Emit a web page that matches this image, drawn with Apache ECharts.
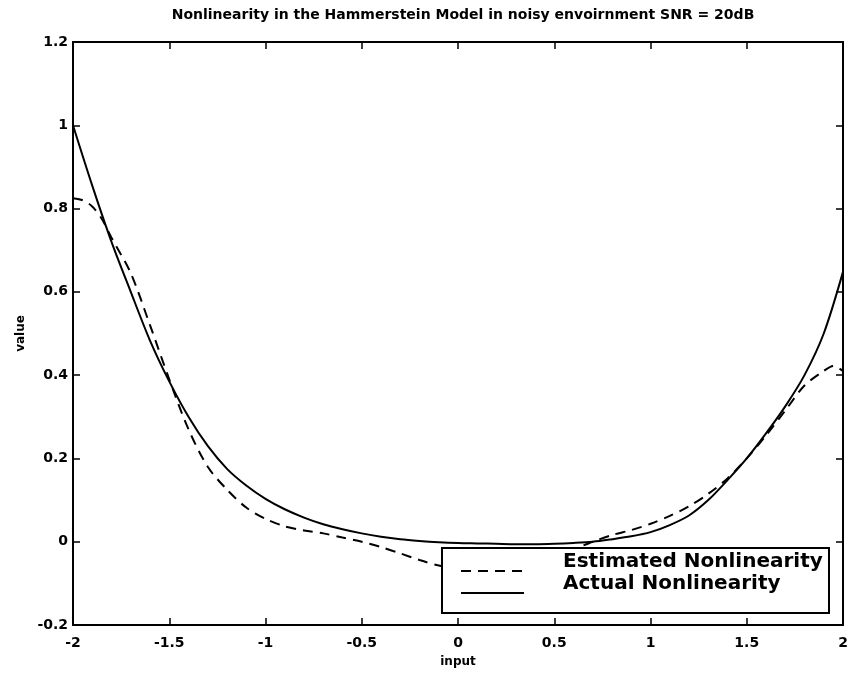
<!DOCTYPE html>
<html>
<head>
<meta charset="utf-8">
<script src="https://cdn.jsdelivr.net/npm/echarts@6/dist/echarts.min.js"></script>
<style>html,body{margin:0;padding:0;background:#fff}#c{width:862px;height:677px}</style>
</head>
<body>
<div id="c"></div>
<script>
var titleText = 'Nonlinearity in the Hammerstein Model in noisy envoirnment SNR = 20dB';
var xName = 'input';
var yName = 'value';
var seriesNames = ['Estimated Nonlinearity', 'Actual Nonlinearity'];

var actualX = [-2, -1.9, -1.8, -1.7, -1.6, -1.5, -1.4, -1.3, -1.2, -1.1, -1.0, -0.9, -0.8, -0.7, -0.6, -0.5, -0.4, -0.3, -0.2, -0.1, 0, 0.1, 0.2, 0.3, 0.4, 0.5, 0.6, 0.7, 0.8, 0.9, 1.0, 1.1, 1.2, 1.3, 1.4, 1.5, 1.6, 1.7, 1.8, 1.9, 2];
var actualY = [1.0, 0.855, 0.72, 0.6, 0.483, 0.385, 0.3, 0.23, 0.175, 0.135, 0.103, 0.078, 0.058, 0.042, 0.03, 0.02, 0.012, 0.006, 0.002, -0.001, -0.003, -0.004, -0.005, -0.006, -0.006, -0.005, -0.003, 0.0, 0.006, 0.013, 0.023, 0.04, 0.063, 0.1, 0.148, 0.2, 0.26, 0.325, 0.4, 0.5, 0.648];

var estX = [-2, -1.95, -1.9, -1.85, -1.8, -1.7, -1.6, -1.5, -1.4, -1.3, -1.2, -1.1, -1.0, -0.9, -0.8, -0.7, -0.6, -0.5, -0.4, -0.3, -0.2, -0.1, 0, 0.1, 0.2, 0.3, 0.4, 0.5, 0.6, 0.7, 0.8, 0.9, 1.0, 1.1, 1.2, 1.3, 1.4, 1.5, 1.6, 1.7, 1.8, 1.9, 1.95, 2];
var estY = [0.825, 0.82, 0.805, 0.775, 0.73, 0.645, 0.52, 0.39, 0.27, 0.18, 0.125, 0.082, 0.055, 0.037, 0.027, 0.02, 0.01, 0.0, -0.013, -0.028, -0.044, -0.057, -0.064, -0.066, -0.064, -0.058, -0.048, -0.034, -0.018, 0.0, 0.016, 0.028, 0.043, 0.062, 0.085, 0.115, 0.152, 0.2, 0.255, 0.315, 0.375, 0.41, 0.422, 0.41];

function pairs(xs, ys) { return xs.map(function (x, i) { return [x, ys[i]]; }); }

var FONT = 'DejaVu Sans';
var chart = echarts.init(document.getElementById('c'));
var axisCommon = {
  axisLine: { show: true, onZero: false, lineStyle: { color: '#000', width: 2 } },
  axisTick: { show: true, inside: true, length: 7, lineStyle: { color: '#000', width: 1.5 } },
  splitLine: { show: false }
};
chart.setOption({
  backgroundColor: '#fff',
  animation: false,
  title: {
    text: titleText, left: 458, textAlign: 'center', top: 3,
    textStyle: { fontFamily: FONT, fontWeight: 'bold', fontSize: 14, color: '#000' }
  },
  grid: { left: 73, right: 19, top: 42, bottom: 52 },
  xAxis: [
    Object.assign({ type: 'value', min: -2, max: 2, interval: 0.5, position: 'bottom',
      name: xName, nameLocation: 'middle', nameGap: 31,
      nameTextStyle: { fontFamily: FONT, fontWeight: 'bold', fontSize: 12, color: '#000' },
      axisLabel: { margin: 11, fontFamily: FONT, fontWeight: 'bold', fontSize: 14, color: '#000' } }, axisCommon),
    Object.assign({ type: 'value', min: -2, max: 2, interval: 0.5, position: 'top',
      axisLabel: { show: false } }, axisCommon)
  ],
  yAxis: [
    Object.assign({ type: 'value', min: -0.2, max: 1.2, interval: 0.2, position: 'left',
      name: yName, nameLocation: 'middle', nameGap: 45,
      nameTextStyle: { fontFamily: FONT, fontWeight: 'bold', fontSize: 12, color: '#000' },
      axisLabel: { margin: 5, fontFamily: FONT, fontWeight: 'bold', fontSize: 14, color: '#000' } }, axisCommon),
    Object.assign({ type: 'value', min: -0.2, max: 1.2, interval: 0.2, position: 'right',
      axisLabel: { show: false } }, axisCommon)
  ],
  legend: {
    orient: 'vertical', left: 455, top: 547, z: 200,
    itemWidth: 63, itemHeight: 14, itemGap: -16,
    data: seriesNames,
    itemStyle: { opacity: 0 },
    formatter: '{t|{name}}',
    textStyle: {
      fontFamily: FONT, fontWeight: 'bold', fontSize: 20, lineHeight: 22, color: '#000', padding: [0, 0, 0, 34],
      rich: { t: { fontFamily: FONT, fontWeight: 'bold', fontSize: 20, lineHeight: 22, color: '#000', padding: [0, 0, 18, 0] } }
    }
  },
  graphic: [{
    type: 'rect', z: 150,
    shape: { x: 442, y: 548, width: 387, height: 65 },
    style: { fill: '#fff', stroke: '#000', lineWidth: 2 }
  }],
  series: [
    { name: seriesNames[0], type: 'line', smooth: 0.3, symbol: 'none', data: pairs(estX, estY),
      lineStyle: { color: '#000', width: 2, type: [10, 7] } },
    { name: seriesNames[1], type: 'line', smooth: 0.3, symbol: 'none', data: pairs(actualX, actualY),
      lineStyle: { color: '#000', width: 2, type: 'solid' } }
  ]
});
</script>
</body>
</html>
